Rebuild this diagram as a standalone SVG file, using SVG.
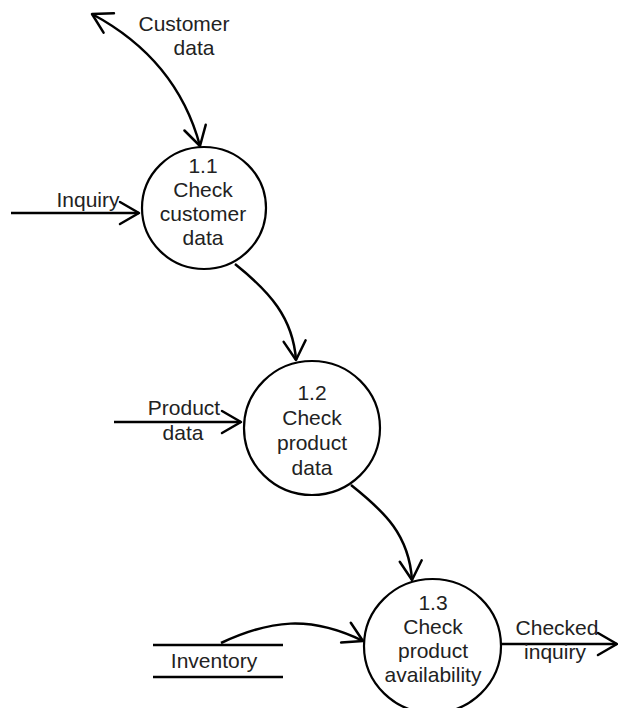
<svg xmlns="http://www.w3.org/2000/svg" width="618" height="708" viewBox="0 0 618 708">
  <style>
    .bg { fill: #ffffff; }
    .proc { fill: #ffffff; stroke: #000000; stroke-width: 2.2; }
    .flow { fill: none; stroke: #000000; stroke-width: 2.5; }
    .store { stroke: #000000; stroke-width: 2.5; }
    .lbl { font-family: "Liberation Sans", Arial, sans-serif; font-size: 21px; fill: #222222; text-anchor: middle; }
  </style>
  <defs>
    <marker id="arrow" markerUnits="userSpaceOnUse" viewBox="-24 -14 28 28" refX="0" refY="0" markerWidth="28" markerHeight="28" orient="auto-start-reverse" overflow="visible">
      <path d="M-19,-11 L0,0 L-19,11" fill="none" stroke="#000000" stroke-width="2.5" stroke-linejoin="round" stroke-linecap="round"/>
    </marker>
  </defs>
  <rect class="bg" x="0" y="0" width="618" height="708"/>

  <!-- data flows -->
  <g id="connectors">
    <path class="flow" d="M92,14 C150,45 185,90 200,146" marker-start="url(#arrow)" marker-end="url(#arrow)"/>
    <path class="flow" d="M11,213 L139,213" marker-end="url(#arrow)"/>
    <path class="flow" d="M235,264 C270,292 293,318 296,360" marker-end="url(#arrow)"/>
    <path class="flow" d="M114,422 L241,422" marker-end="url(#arrow)"/>
    <path class="flow" d="M351,485 C385,512 409,535 412,580" marker-end="url(#arrow)"/>
    <path class="flow" d="M221,643 C270,620 310,615 363,641" marker-end="url(#arrow)"/>
    <path class="flow" d="M501,644 L617,644" marker-end="url(#arrow)"/>
  </g>

  <!-- flow labels -->
  <g id="flow-labels">
    <text class="lbl" x="184" y="31">Customer</text>
    <text class="lbl" x="194" y="55">data</text>
    <text class="lbl" x="88" y="207">Inquiry</text>
    <text class="lbl" x="184" y="415">Product</text>
    <text class="lbl" x="183" y="440">data</text>
    <text class="lbl" x="557" y="635">Checked</text>
    <text class="lbl" x="555" y="659">inquiry</text>
  </g>

  <!-- process 1.1 -->
  <g id="p1-1">
    <ellipse class="proc" cx="204" cy="208" rx="62" ry="61"/>
    <text class="lbl" x="203" y="173">1.1</text>
    <text class="lbl" x="203" y="197">Check</text>
    <text class="lbl" x="203" y="221">customer</text>
    <text class="lbl" x="203" y="245">data</text>
  </g>

  <!-- process 1.2 -->
  <g id="p1-2">
    <ellipse class="proc" cx="312" cy="428" rx="68" ry="67"/>
    <text class="lbl" x="312" y="400">1.2</text>
    <text class="lbl" x="312" y="425">Check</text>
    <text class="lbl" x="312" y="450">product</text>
    <text class="lbl" x="312" y="475">data</text>
  </g>

  <!-- process 1.3 -->
  <g id="p1-3">
    <ellipse class="proc" cx="432.5" cy="646" rx="68.5" ry="67"/>
    <text class="lbl" x="433" y="610">1.3</text>
    <text class="lbl" x="433" y="634">Check</text>
    <text class="lbl" x="433" y="658">product</text>
    <text class="lbl" x="433" y="682">availability</text>
  </g>

  <!-- data store -->
  <g id="inventory">
    <line class="store" x1="153" y1="645" x2="283" y2="645"/>
    <line class="store" x1="153" y1="677" x2="283" y2="677"/>
    <text class="lbl" x="214" y="668">Inventory</text>
  </g>
</svg>
